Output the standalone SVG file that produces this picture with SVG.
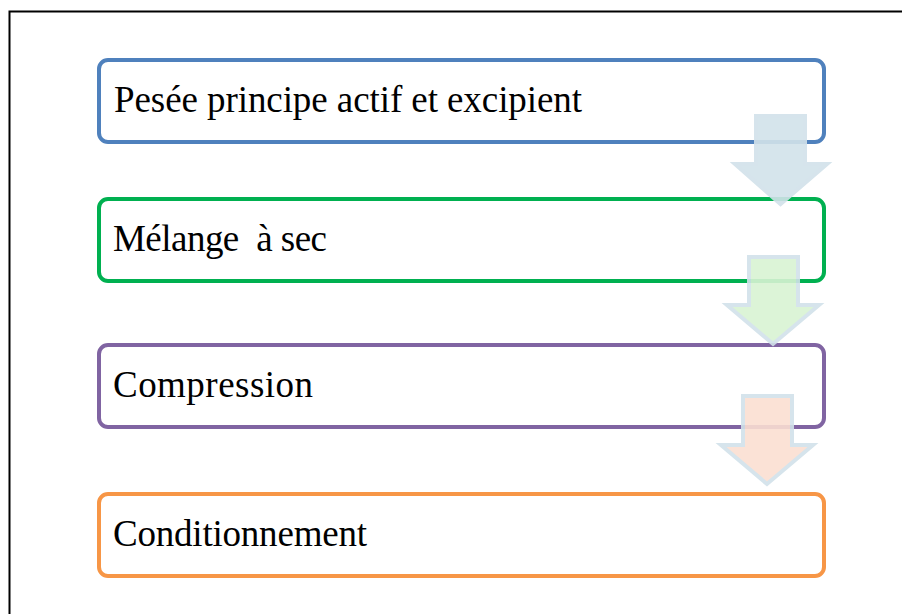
<svg xmlns="http://www.w3.org/2000/svg" width="902" height="614" viewBox="0 0 902 614">
  <style>
    .step { fill: #ffffff; stroke-width: 4; }
    .label { font-family: "Liberation Serif", "Times New Roman", serif; font-size: 37px; fill: #000000; white-space: pre; }
    .flow { stroke: #d2e2ea; stroke-width: 4; stroke-linejoin: miter; opacity: 0.9; }
  </style>
  <rect width="902" height="614" fill="#ffffff"/>
  <!-- page frame -->
  <path d="M9.5 620 V11.5 H910" fill="none" stroke="#000000" stroke-width="2"/>

  <g id="step-pesee">
    <rect class="step" x="99" y="60" width="725" height="82" rx="9" stroke="#4f81bd"/>
    <text class="label" x="114" y="112" textLength="468" lengthAdjust="spacing">Pesée principe actif et excipient</text>
  </g>
  <g id="step-melange">
    <rect class="step" x="99" y="199" width="725" height="82" rx="9" stroke="#00b050"/>
    <text class="label" x="113" y="251" textLength="214" lengthAdjust="spacing" xml:space="preserve">Mélange  à sec</text>
  </g>
  <g id="step-compression">
    <rect class="step" x="99" y="345" width="725" height="82" rx="9" stroke="#8064a2"/>
    <text class="label" x="113" y="397" textLength="200" lengthAdjust="spacing">Compression</text>
  </g>
  <g id="step-conditionnement">
    <rect class="step" x="99" y="494" width="725" height="82" rx="9" stroke="#f79646"/>
    <text class="label" x="113" y="546" textLength="254" lengthAdjust="spacing">Conditionnement</text>
  </g>

  <g id="connectors">
    <polygon class="flow" fill="#d2e3ea" points="756,116 805,116 805,164 827,164 780.5,204 735,164 756,164"/>
    <polygon class="flow" fill="#d9f3d3" points="749,257 798,257 798,305 819,305 773,344 727,305 749,305"/>
    <polygon class="flow" fill="#fbdfd2" points="743,396 792,396 792,445 813,445 767,484 721,445 743,445"/>
  </g>
</svg>
